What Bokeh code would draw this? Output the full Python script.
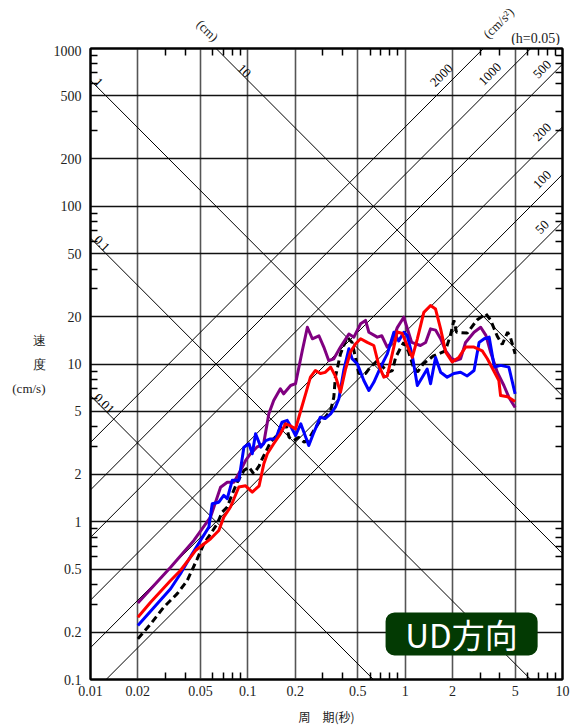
import math
from bokeh.plotting import figure
from bokeh.layouts import column
from bokeh.models import (Range1d, LogAxis, FixedTicker, CustomJSTickFormatter,
                          Label, BoxAnnotation, ColumnDataSource)
from bokeh.core.properties import value
from bokeh.embed import file_html
from bokeh.resources import INLINE

# ---------------- data ----------------
x_major = [0.01, 0.02, 0.05, 0.1, 0.2, 0.5, 1, 2, 5, 10]
y_major = [0.1, 0.2, 0.5, 1, 2, 5, 10, 20, 50, 100, 200, 500, 1000]
x_minor = [m * 10.0 ** e for e in range(-2, 1) for m in (3, 4, 6, 7, 8, 9)]
y_minor = [m * 10.0 ** e for e in range(-1, 3) for m in (3, 4, 6, 7, 8, 9)]

disp_cm = [0.01, 0.1, 1, 10]                 # constant displacement lines
disp_labels = ["0.01", "0.1", "1", "10"]
acc_gal = [50, 100, 200, 500, 1000, 2000]    # constant acceleration lines
acc_labels = ["50", "100", "200", "500", "1000", "2000"]

period_black = [0.02, 0.0241, 0.0292, 0.0356, 0.0412, 0.0477, 0.0525, 0.058, 0.0639, 0.0686,
                0.074, 0.0796, 0.0856, 0.0944, 0.1017, 0.109, 0.118, 0.1235, 0.133, 0.139,
                0.153, 0.165, 0.174, 0.183, 0.196, 0.211, 0.228, 0.244, 0.263, 0.289,
                0.31, 0.336, 0.352, 0.36, 0.372, 0.388, 0.428, 0.46, 0.483, 0.507,
                0.56, 0.6, 0.665, 0.71, 0.77, 0.83, 0.87, 0.93, 0.98, 1.05,
                1.13, 1.2, 1.3, 1.5, 1.8, 1.94, 2.04, 2.12, 2.48, 2.86,
                3.26, 3.49, 3.85, 4.14, 4.48, 4.68, 5.0]
sv_black = [0.181, 0.225, 0.287, 0.35, 0.424, 0.582, 0.725, 0.839, 0.97, 1.15,
            1.24, 1.50, 1.78, 2.11, 2.22, 2.01, 2.26, 2.51, 2.9, 3.2,
            3.52, 4.18, 4.18, 3.43, 3.27, 3.43, 3.19, 3.35, 3.8, 4.39,
            4.6, 5.07, 6.16, 8.25, 9.55, 11.6, 14.8, 13.7, 11.0, 8.7,
            8.7, 9.55, 10.5, 9.8, 8.87, 9.1, 11.0, 12.5, 13.7, 12.0,
            9.5, 8.9, 10.0, 11.2, 12.1, 15.2, 18.9, 15.9, 15.7, 19.0,
            20.8, 19.0, 15.0, 13.3, 15.9, 14.6, 11.6]

period_blue = [0.02, 0.0323, 0.0373, 0.0443, 0.05, 0.0565, 0.0594, 0.0654, 0.0703, 0.074,
               0.0796, 0.0877, 0.0944, 0.1017, 0.1067, 0.112, 0.121, 0.130, 0.139, 0.150,
               0.165, 0.178, 0.191, 0.201, 0.217, 0.244, 0.263, 0.289, 0.31, 0.336,
               0.36, 0.379, 0.407, 0.439, 0.46, 0.497, 0.546, 0.588, 0.632, 0.698,
               0.77, 0.848, 0.91, 0.98, 1.03, 1.11, 1.195, 1.285, 1.38, 1.45,
               1.56, 1.68, 1.85, 2.04, 2.25, 2.48, 2.74, 2.95, 3.18, 3.42,
               3.69, 4.04, 4.56, 5.0]
sv_blue = [0.22, 0.376, 0.468, 0.626, 0.76, 0.924, 1.30, 1.33, 1.47, 1.40,
           1.83, 1.83, 2.97, 3.12, 2.70, 3.61, 2.97, 3.27, 3.35, 3.35,
           4.28, 4.39, 3.88, 3.52, 4.18, 3.04, 3.69, 4.60, 4.51, 4.83,
           5.32, 6.02, 9.1, 12.5, 10.8, 10.0, 7.86, 6.79, 7.66, 9.55,
           11.6, 15.9, 14.0, 15.9, 15.2, 11.3, 7.31, 8.25, 9.3, 7.5,
           11.0, 8.87, 8.25, 8.7, 8.87, 8.4, 9.1, 13.7, 14.45, 14.8,
           9.55, 9.8, 9.55, 6.47]

period_red = [0.02, 0.0241, 0.0323, 0.0373, 0.0465, 0.058, 0.0654, 0.0703, 0.0776, 0.0877,
              0.0967, 0.1067, 0.118, 0.1264, 0.133, 0.146, 0.161, 0.174, 0.187, 0.201,
              0.217, 0.233, 0.25, 0.269, 0.289, 0.31, 0.336, 0.36, 0.388, 0.418,
              0.449, 0.483, 0.521, 0.574, 0.632, 0.68, 0.732, 0.77, 0.828, 0.891,
              0.958, 1.03, 1.11, 1.195, 1.315, 1.45, 1.56, 1.68, 1.81, 1.99,
              2.19, 2.42, 2.74, 3.09, 3.33, 3.94, 4.04, 4.48, 5.0]
sv_red = [0.248, 0.309, 0.424, 0.491, 0.657, 0.78, 0.88, 1.07, 1.24, 1.66,
          1.69, 1.54, 1.69, 2.33, 2.70, 3.12, 3.61, 4.18, 4.05, 3.88,
          5.07, 6.47, 8.25, 9.1, 8.7, 8.85, 9.55, 8.4, 6.63, 9.3,
          11.9, 13.4, 14.45, 13.7, 13.1, 9.8, 8.25, 8.4, 11.6, 16.0,
          15.6, 13.1, 11.0, 14.45, 21.3, 23.5, 22.3, 16.7, 11.9, 10.3,
          11.0, 12.8, 12.8, 12.1, 10.8, 7.86, 6.31, 6.2, 5.78]

period_purple = [0.02, 0.0323, 0.0454, 0.0579, 0.0671, 0.074, 0.0815, 0.0899, 0.0967, 0.104,
                 0.114, 0.126, 0.136, 0.146, 0.161, 0.169, 0.187, 0.201, 0.222, 0.239,
                 0.257, 0.283, 0.304, 0.327, 0.352, 0.388, 0.439, 0.472, 0.521, 0.56,
                 0.588, 0.665, 0.71, 0.769, 0.82, 0.891, 0.98, 1.1, 1.25, 1.349,
                 1.45, 1.56, 1.68, 1.81, 1.94, 2.09, 2.25, 2.42, 2.74, 3.02,
                 3.26, 3.49, 3.85, 4.24, 4.56, 5.0]
sv_purple = [0.305, 0.515, 0.761, 1.068, 1.656, 1.78, 1.78, 2.11, 2.44, 2.7,
             2.97, 3.12, 4.83, 5.87, 6.96, 6.47, 7.31, 7.5, 12.18, 17.1,
             14.45, 15.1, 12.8, 10.5, 10.8, 12.8, 15.5, 14.8, 18.0, 18.9,
             15.9, 14.8, 15.1, 12.8, 13.6, 17.0, 19.8, 13.7, 13.1, 13.7,
             16.7, 16.4, 14.45, 12.1, 11.0, 10.5, 10.8, 13.7, 15.9, 17.1,
             15.2, 11.9, 8.87, 7.31, 6.16, 5.3]

# ---------------- styles ----------------
SERIF = "Liberation Serif"
CJK = "Noto Sans CJK JP"
TXT = "#222222"
FRAME_L, FRAME_R = 90, 562   # page x of the chart frame
RIGHT_PAD = 11
HEAD = 45                    # header strip height holding the unit captions

# ---------------- header strip with captions (x in page px, y up from strip bottom) ----------------
head = figure(x_range=Range1d(FRAME_L, FRAME_R), y_range=Range1d(0, HEAD),
              frame_width=FRAME_R - FRAME_L, frame_height=HEAD,
              min_border_left=FRAME_L, min_border_right=RIGHT_PAD,
              min_border_top=0, min_border_bottom=0,
              output_backend="svg", toolbar_location=None)
head.axis.visible = False
head.grid.visible = False
head.outline_line_color = None
cap = ColumnDataSource(dict(x=[207, 498, 535], y=[15, 22.5, 7.5],
                            t=["(cm)", "(cm/s²)", "(h=0.05)"],
                            a=[-math.pi / 4, math.pi / 4, 0.0],
                            s=["13px", "13px", "14px"]))
head.text(x="x", y="y", text="t", angle="a", source=cap, text_align="center",
          text_baseline="middle", text_font=value(SERIF), text_font_size="s",
          text_color=TXT)

# ---------------- main chart ----------------
p = figure(x_axis_type="log", y_axis_type="log",
           x_range=Range1d(0.01, 10), y_range=Range1d(0.1, 1000),
           frame_width=FRAME_R - FRAME_L, frame_height=631,
           min_border_left=FRAME_L, min_border_top=48 - HEAD, min_border_right=RIGHT_PAD,
           min_border_bottom=46,
           output_backend="svg", toolbar_location=None,
           background_fill_color="white", border_fill_color="white")
p.outline_line_color = "black"
p.outline_line_width = 2

fmt = CustomJSTickFormatter(code="return String(tick);")

def style_axis(ax):
    ax.major_tick_in = 0
    ax.major_tick_out = 0
    ax.minor_tick_in = 7
    ax.minor_tick_out = 0
    ax.minor_tick_line_width = 1.5
    ax.minor_tick_line_color = "black"
    ax.axis_line_width = 2
    ax.axis_line_color = "black"
    ax.major_label_text_font = SERIF
    ax.major_label_text_font_size = "14px"
    ax.major_label_text_color = TXT

xa = p.xaxis[0]
xa.ticker = FixedTicker(ticks=x_major, minor_ticks=x_minor)
xa.formatter = fmt
style_axis(xa)
xa.major_label_standoff = 6
xa.axis_label = "周　期(秒)"
xa.axis_label_text_font = CJK
xa.axis_label_text_font_size = "12px"
xa.axis_label_text_font_style = "normal"
xa.axis_label_text_color = TXT
xa.axis_label_standoff = 9

ya = p.yaxis[0]
ya.ticker = FixedTicker(ticks=y_major, minor_ticks=y_minor)
ya.formatter = fmt
style_axis(ya)
ya.major_label_standoff = 9
ya.axis_label = "速\n度\n(cm/s)"
ya.axis_label_orientation = "horizontal"
ya.axis_label_text_font = SERIF
ya.axis_label_text_font_size = "13px"
ya.axis_label_text_font_style = "normal"
ya.axis_label_text_color = TXT
ya.axis_label_text_line_height = 1.6
ya.axis_label_standoff = 5

top = LogAxis(ticker=FixedTicker(ticks=[], minor_ticks=x_minor))
style_axis(top)
top.major_label_standoff = 0
top.axis_label_standoff = 0
p.add_layout(top, "above")
right = LogAxis(ticker=FixedTicker(ticks=[], minor_ticks=y_minor))
style_axis(right)
right.major_label_standoff = 0
right.axis_label_standoff = 0
p.add_layout(right, "right")

p.xgrid.ticker = FixedTicker(ticks=x_major)
p.ygrid.ticker = FixedTicker(ticks=y_major)
p.xgrid.grid_line_color = "#555555"
p.xgrid.grid_line_width = 1.6
p.ygrid.grid_line_color = "#111111"
p.ygrid.grid_line_width = 1.3

# tripartite guide lines
T_ends = [0.01, 10]
for d in disp_cm:
    p.line(T_ends, [2 * math.pi * d / t for t in T_ends], line_color="black", line_width=1)
for a in acc_gal:
    p.line(T_ends, [a * t / (2 * math.pi) for t in T_ends], line_color="black", line_width=1)

for d, lab in zip(disp_cm, disp_labels):
    t = 0.085 if d == 10 else 0.0104
    p.add_layout(Label(x=t, y=2 * math.pi * d / t, text=lab, angle=-math.pi / 4,
                       text_align="left", text_baseline="bottom",
                       text_font=SERIF, text_font_size="13px", text_color="black"))
for a, lab in zip(acc_gal, acc_labels):
    t = {2000: 1.90, 1000: 3.87}.get(a, 8.3)
    sh = 1.07
    p.add_layout(Label(x=t / sh, y=a * t / (2 * math.pi) * sh, text=lab, angle=math.pi / 4,
                       text_align="center", text_baseline="bottom",
                       text_font=SERIF, text_font_size="13px", text_color="black"))

# spectra
p.line(period_black, sv_black, line_color="black", line_width=3, line_dash="7 4")
p.line(period_purple, sv_purple, line_color="#800080", line_width=3, line_join="round")
p.line(period_blue, sv_blue, line_color="#0000ff", line_width=3, line_join="round")
p.line(period_red, sv_red, line_color="#ff0000", line_width=3, line_join="round")

# badge
p.add_layout(BoxAnnotation(left=0.7506, right=6.95, bottom=0.142, top=0.266,
                           fill_color="#033a03", fill_alpha=1.0, line_color=None,
                           border_radius=9))
p.add_layout(Label(x=2.28, y=0.193, text="UD方向", text_align="center", text_baseline="middle",
                   text_font=CJK, text_font_size="33px", text_color="white"))

layout = column(head, p, spacing=0)
open("out.html", "w").write(file_html(layout, INLINE))
